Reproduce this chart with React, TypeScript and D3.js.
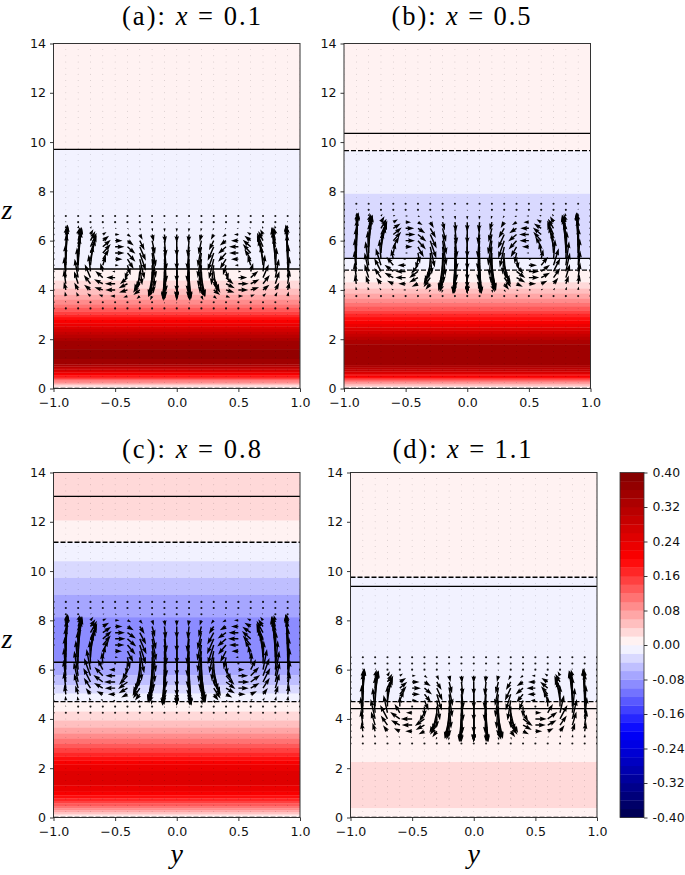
import { useEffect, useRef } from "react";
import * as d3 from "d3";

const width = 685;
const height = 875;

const yTicks = [-1, -0.5, 0, 0.5, 1];
const zTicks = [0, 2, 4, 6, 8, 10, 12, 14];

// quiver grid
const yGrid = d3.range(-10, 11).map((i) => i / 10);
const zGrid = d3.range(1, 56).map((i) => i / 4);

// arrow strength across y, w is vertical and u horizontal
const wAcrossY = [0.04, 0.95, 0.85, 0.6, 0.3, 0, -0.3, -0.6, -0.85, -1, -1, -1, -0.85, -0.6, -0.3, 0, 0.3, 0.6, 0.85, 0.95, 0.04];
const uAcrossY = [0, 0.2, 0.4, 0.65, 0.85, 1, 0.85, 0.65, 0.4, 0.2, 0, -0.2, -0.4, -0.65, -0.85, -1, -0.85, -0.65, -0.4, -0.2, 0];

// panel (a)
const zRowsA = [3.25, 3.5, 3.75, 4, 4.25, 4.5, 4.75, 5, 5.25, 5.5, 5.75, 6, 6.25, 6.5, 6.75, 7];
const wRowsA = [0.02, 0.06, 0.2, 0.35, 0.6, 0.9, 1.15, 1.35, 1.35, 1.2, 0.95, 0.65, 0.35, 0.15, 0.06, 0.02];
const uRowsA = [0, -0.03, -0.2, -0.4, -0.42, -0.36, -0.12, 0.15, 0.3, 0.38, 0.38, 0.3, 0.18, 0.07, 0.02, 0];
const edgesA = [14, 9.7, 4.85, 4.38, 4.05, 3.8, 3.6, 3.42, 3.27, 3.13, 3, 2.9, 2.78, 2.65, 2.53, 2.42, 2.3, 2.18, 2.05, 1.93, 1.6, 1.2, 0.98, 0.9, 0.83, 0.77, 0.71, 0.65, 0.6, 0.54, 0.48, 0.43, 0.38, 0.33, 0.28, 0.23, 0.18, 0.13, 0.07, 0];
const valuesA = [0.01, -0.01, 0.01, 0.03, 0.05, 0.07, 0.09, 0.11, 0.13, 0.15, 0.17, 0.19, 0.21, 0.23, 0.25, 0.27, 0.29, 0.31, 0.33, 0.35, 0.37, 0.35, 0.33, 0.31, 0.29, 0.27, 0.25, 0.23, 0.21, 0.19, 0.17, 0.15, 0.13, 0.11, 0.09, 0.07, 0.05, 0.03, 0.01];

// panel (b)
const zRowsB = [3.75, 4, 4.25, 4.5, 4.75, 5, 5.25, 5.5, 5.75, 6, 6.25, 6.5, 6.75, 7, 7.25, 7.5];
const wRowsB = [0.05, 0.15, 0.4, 0.65, 0.9, 1.15, 1.35, 1.45, 1.4, 1.2, 0.95, 0.65, 0.4, 0.15, 0.06, 0.02];
const uRowsB = [-0.03, -0.1, -0.3, -0.42, -0.42, -0.33, -0.1, 0.1, 0.28, 0.38, 0.4, 0.35, 0.22, 0.1, 0.03, 0];
const edgesB = [14, 9.65, 7.9, 5.28, 4.8, 4.31, 4.05, 3.85, 3.65, 3.47, 3.32, 3.17, 3.03, 2.9, 2.76, 2.62, 2.48, 2.35, 2.22, 2.1, 1.97, 1.8, 0.95, 0.85, 0.77, 0.7, 0.64, 0.58, 0.53, 0.47, 0.42, 0.38, 0.33, 0.29, 0.25, 0.2, 0.16, 0.11, 0.06, 0];
const valuesB = [0.01, -0.01, -0.03, -0.01, 0.01, 0.03, 0.05, 0.07, 0.09, 0.11, 0.13, 0.15, 0.17, 0.19, 0.21, 0.23, 0.25, 0.27, 0.29, 0.31, 0.33, 0.35, 0.33, 0.31, 0.29, 0.27, 0.25, 0.23, 0.21, 0.19, 0.17, 0.15, 0.13, 0.11, 0.09, 0.07, 0.05, 0.03, 0.01];

// panel (c)
const zRowsC = [4.25, 4.5, 4.75, 5, 5.25, 5.5, 5.75, 6, 6.25, 6.5, 6.75, 7, 7.25, 7.5, 7.75, 8, 8.25, 8.5, 8.75];
const wRowsC = [0.02, 0.06, 0.2, 0.42, 0.7, 0.95, 1.2, 1.4, 1.55, 1.6, 1.5, 1.3, 1.05, 0.8, 0.5, 0.25, 0.05, 0.05, 0.02];
const uRowsC = [0, -0.03, -0.1, -0.3, -0.42, -0.45, -0.4, -0.25, -0.05, 0.12, 0.28, 0.38, 0.42, 0.4, 0.3, 0.18, 0.08, 0.03, 0];
const edgesC = [14, 12.05, 11.17, 10.4, 9.72, 9.03, 8.13, 6.3, 5.77, 5.37, 5.03, 4.7, 4.3, 3.94, 3.65, 3.4, 3.2, 3, 2.82, 2.65, 2.48, 2.32, 2.15, 1.9, 1.3, 1.05, 0.9, 0.78, 0.67, 0.57, 0.47, 0.38, 0.3, 0.22, 0.15, 0.08, 0];
const valuesC = [0.03, 0.01, -0.01, -0.03, -0.05, -0.07, -0.09, -0.07, -0.05, -0.03, -0.01, 0.01, 0.03, 0.05, 0.07, 0.09, 0.11, 0.13, 0.15, 0.17, 0.19, 0.21, 0.23, 0.25, 0.23, 0.21, 0.19, 0.17, 0.15, 0.13, 0.11, 0.09, 0.07, 0.05, 0.03, 0.01];

// panel (d)
const zRowsD = [3, 3.25, 3.5, 3.75, 4, 4.25, 4.5, 4.75, 5, 5.25, 5.5, 5.75, 6, 6.25, 6.5];
const wRowsD = [0.02, 0.15, 0.4, 0.65, 0.95, 1.2, 1.45, 1.35, 1.1, 0.85, 0.55, 0.3, 0.08, 0.04, 0.02];
const uRowsD = [0, -0.06, -0.28, -0.42, -0.46, -0.25, 0, 0.2, 0.32, 0.36, 0.3, 0.15, 0.04, 0, 0];
const edgesD = [14, 9.75, 4.7, 2.25, 0.38, 0];
const valuesD = [0.01, -0.01, 0.01, 0.03, 0.01];

const panels = [
  { letter: "a", xval: "0.1", left: 53.5, top: 43.5, solid: [9.7, 4.85], dashed: [0], zRows: zRowsA, wRows: wRowsA, uRows: uRowsA, edges: edgesA, values: valuesA, titleX: 191.5, titleY: 25, zLabel: true },
  { letter: "b", xval: "0.5", left: 344, top: 43.5, solid: [10.35, 5.28], dashed: [9.65, 4.8, 0], zRows: zRowsB, wRows: wRowsB, uRows: uRowsB, edges: edgesB, values: valuesB, titleX: 461, titleY: 25, zLabel: false },
  { letter: "c", xval: "0.8", left: 53.5, top: 472.5, solid: [13.03, 6.3], dashed: [11.17, 4.7, 0], zRows: zRowsC, wRows: wRowsC, uRows: uRowsC, edges: edgesC, values: valuesC, titleX: 191.5, titleY: 458, zLabel: true },
  { letter: "d", xval: "1.1", left: 350.5, top: 472.5, solid: [9.38, 4.42], dashed: [9.75, 4.7, 0], zRows: zRowsD, wRows: wRowsD, uRows: uRowsD, edges: edgesD, values: valuesD, titleX: 462, titleY: 458, zLabel: false },
];

const panelW = 246.5;
const panelH = 345;

const seismic = d3
  .scaleLinear<string>()
  .domain([-0.4, -0.2, 0, 0.2, 0.4])
  .range(["#00004d", "#0000ff", "#ffffff", "#ff0000", "#800000"]);

const barLevels = d3.range(-20, 20).map((i) => i / 50);
const barTicks = [-0.4, -0.32, -0.24, -0.16, -0.08, 0, 0.08, 0.16, 0.24, 0.32, 0.4];
const barLabels = ["-0.40", "-0.32", "-0.24", "-0.16", "-0.08", "0.00", "0.08", "0.16", "0.24", "0.32", "0.40"];

const tickFont = "'DejaVu Sans', sans-serif";
const serif = "'Liberation Serif', serif";

// outline of a quiver arrow, matplotlib proportions
function arrowPath(x0: number, y0: number, dx: number, dy: number) {
  const len = Math.hypot(dx, dy);
  const w = 1.45;
  const headLen = 7;
  const scale = len < headLen ? len / headLen : 1;
  const sw = (w / 2) * scale;
  const hw = ((w * 3.2) / 2) * scale;
  const hl = headLen * scale;
  const ha = 6.2 * scale;
  const local: [number, number][] = [
    [0, -sw],
    [len - ha, -sw],
    [len - hl, -hw],
    [len, 0],
    [len - hl, hw],
    [len - ha, sw],
    [0, sw],
  ];
  const c = dx / len;
  const s = dy / len;
  const pts = local.map(([a, b]) => [x0 + a * c - b * s, y0 + a * s + b * c] as [number, number]);
  return d3.line()(pts) + "Z";
}

function styleAxis(g: d3.Selection<SVGGElement, unknown, null, undefined>, size: number) {
  g.attr("font-family", tickFont).attr("font-size", size);
  g.select(".domain").remove();
  g.selectAll("line").attr("stroke", "#222").attr("stroke-width", 0.9);
  g.selectAll("text").attr("fill", "#111");
}

function Panel({ p }: { p: (typeof panels)[number] }) {
  const xRef = useRef<SVGGElement>(null);
  const yRef = useRef<SVGGElement>(null);

  const yScale = d3.scaleLinear().domain([-1, 1]).range([p.left, p.left + panelW]);
  const zScale = d3.scaleLinear().domain([0, 14]).range([p.top + panelH, p.top]);
  const pxPerZ = panelH / 14;

  useEffect(() => {
    const gx = d3.select(xRef.current!);
    gx.call(d3.axisBottom(yScale).tickValues(yTicks).tickFormat(d3.format(".1f") as any).tickSize(3.5).tickPadding(6));
    styleAxis(gx, 12.6);
    const gy = d3.select(yRef.current!);
    gy.call(d3.axisLeft(zScale).tickValues(zTicks).tickFormat(d3.format("d") as any).tickSize(3.5).tickPadding(4));
    styleAxis(gy, 12.6);
  }, []);

  const clipId = `clip-${p.letter}`;
  const marks: JSX.Element[] = [];
  yGrid.forEach((y, ci) => {
    zGrid.forEach((z) => {
      const r = p.zRows.indexOf(z);
      const dx = r < 0 ? 0 : p.uRows[r] * uAcrossY[ci] * pxPerZ;
      const dy = r < 0 ? 0 : -p.wRows[r] * wAcrossY[ci] * pxPerZ;
      const len = Math.hypot(dx, dy);
      if (len < 1.4) {
        marks.push(
          <circle key={`${y}-${z}`} cx={yScale(y)} cy={zScale(z)} r={r < 0 ? 0.45 : 1.05} fill="#000" fillOpacity={r < 0 ? 0.28 : 0.9} />
        );
      } else {
        marks.push(<path key={`${y}-${z}`} d={arrowPath(yScale(y), zScale(z), dx, dy)} fill="#000" />);
      }
    });
  });

  return (
    <g>
      <clipPath id={clipId}>
        <rect x={p.left} y={p.top} width={panelW} height={panelH} />
      </clipPath>
      <g clipPath={`url(#${clipId})`}>
        {p.values.map((v, i) => (
          <rect
            key={i}
            x={p.left}
            width={panelW}
            y={zScale(p.edges[i])}
            height={zScale(p.edges[i + 1]) - zScale(p.edges[i]) + 0.3}
            fill={seismic(v)}
          />
        ))}
        {marks}
        {p.solid.map((z) => (
          <line key={z} x1={p.left} x2={p.left + panelW} y1={zScale(z)} y2={zScale(z)} stroke="#000" strokeWidth={1.3} />
        ))}
        {p.dashed.map((z) => (
          <line key={z} x1={p.left} x2={p.left + panelW} y1={zScale(z)} y2={zScale(z)} stroke="#000" strokeWidth={1.3} strokeDasharray="5 2" />
        ))}
      </g>
      <rect x={p.left} y={p.top} width={panelW} height={panelH} fill="none" stroke="#333" strokeWidth={1} />
      <g ref={xRef} transform={`translate(0,${p.top + panelH})`} />
      <g ref={yRef} transform={`translate(${p.left},0)`} />
      <text x={p.titleX} y={p.titleY} textAnchor="middle" fontFamily={serif} fontSize={26.5} textLength={139} fill="#000">
        ({p.letter}): <tspan fontStyle="italic">x</tspan> = {p.xval}
      </text>
      {p.zLabel && (
        <text x={7} y={p.top + 175} textAnchor="middle" fontFamily={serif} fontStyle="italic" fontSize={28}>
          z
        </text>
      )}
      {p.top > 100 && (
        <text x={p.left + panelW / 2} y={863} textAnchor="middle" fontFamily={serif} fontStyle="italic" fontSize={28}>
          y
        </text>
      )}
    </g>
  );
}

function ColorBar() {
  const axisRef = useRef<SVGGElement>(null);
  const left = 620;
  const top = 472.5;
  const barW = 24;
  const barScale = d3.scaleLinear().domain([-0.4, 0.4]).range([top + panelH, top]);

  useEffect(() => {
    const g = d3.select(axisRef.current!);
    g.call(
      d3
        .axisRight(barScale)
        .tickValues(barTicks)
        .tickFormat((_, i) => barLabels[i])
        .tickSize(3.5)
        .tickPadding(5)
    );
    styleAxis(g, 12.4);
  }, []);

  return (
    <g>
      {barLevels.map((v) => (
        <rect
          key={v}
          x={left}
          width={barW}
          y={barScale(v + 0.02)}
          height={barScale(v) - barScale(v + 0.02) + 0.3}
          fill={seismic(v + 0.01)}
        />
      ))}
      <rect x={left} y={top} width={barW} height={panelH} fill="none" stroke="#333" strokeWidth={0.8} />
      <g ref={axisRef} transform={`translate(${left + barW},0)`} />
    </g>
  );
}

export default function App() {
  return (
    <svg
      width={width}
      height={height}
      viewBox={`0 0 ${width} ${height}`}
      style={{ position: "absolute", left: 0, top: 0, background: "#fff" }}
    >
      {panels.map((p) => (
        <Panel key={p.letter} p={p} />
      ))}
      <ColorBar />
    </svg>
  );
}
